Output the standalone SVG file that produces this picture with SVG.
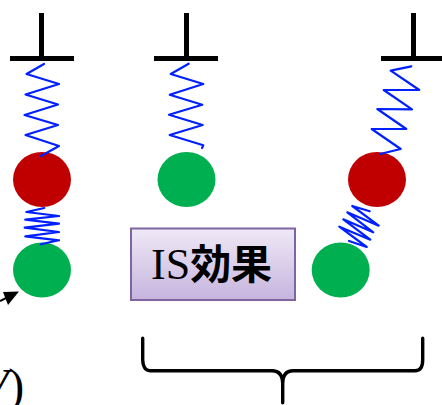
<svg xmlns="http://www.w3.org/2000/svg" width="442" height="405" viewBox="0 0 442 405">
  <defs>
    <linearGradient id="boxFill" x1="0" y1="0" x2="0" y2="1">
      <stop offset="0" stop-color="#efe9f6"/>
      <stop offset="1" stop-color="#c6b4de"/>
    </linearGradient>
  </defs>
  <style>
    .bar { fill: #000; }
    .spring { fill: none; stroke: #0020ff; stroke-width: 2.2; stroke-linejoin: round; stroke-linecap: round; }
    .red { fill: #c00000; }
    .green { fill: #00b050; }
    .latin { font-family: "Liberation Serif", serif; fill: #000; }
    .cjk { font-family: "Noto Sans CJK JP", "Noto Sans CJK SC", sans-serif; font-weight: 700; fill: #000; }
  </style>
  <rect width="442" height="405" fill="#fff"/>

  <g id="support-left"><rect class="bar" x="39" y="13" width="5" height="44"/><rect class="bar" x="10" y="56" width="64" height="5"/></g>
  <g id="support-center"><rect class="bar" x="184" y="13" width="5" height="44"/><rect class="bar" x="154" y="56" width="64" height="5"/></g>
  <g id="support-right"><rect class="bar" x="411" y="13" width="5" height="44"/><rect class="bar" x="381" y="56" width="61" height="5"/></g>

  <g id="ball-red-left"><ellipse class="red" cx="42" cy="179.5" rx="29" ry="27.5"/></g>
  <g id="ball-green-left"><ellipse class="green" cx="42" cy="270" rx="29" ry="27.5"/></g>
  <g id="ball-green-center"><ellipse class="green" cx="186.5" cy="179.5" rx="29" ry="27.5"/></g>
  <g id="ball-red-right"><ellipse class="red" cx="377" cy="179.5" rx="29" ry="27.5"/></g>
  <g id="ball-green-right"><ellipse class="green" cx="340.7" cy="270" rx="29" ry="27.5"/></g>

  <g id="connectors">
    <polyline class="spring" points="44,64 26.5,74 59,84 25.5,94.5 58,104.5 24.5,115 58,125 25.5,135 59,146 41,156"/>
    <polyline class="spring" points="44.3,208 26.3,212 59,216 25.3,219.7 59,223.7 24.7,227.7 59,232 25.3,236.3 59,240.3 40.7,244.3"/>
    <polyline class="spring" points="188.7,63.7 170.7,74 203.3,84 169.7,94.7 202.3,104.7 169,114.7 202.7,125 169.7,135 203.3,145.3 202,148"/>
    <polyline class="spring" points="411.3,66.3 390.7,70.7 419.3,90 383.7,90 412,109.3 377.3,109 406.3,129 371.7,129 400.7,149 380,154"/>
    <polyline class="spring" points="369.7,211.3 352.3,206 378.7,225.7 347.3,212.3 373.3,232.3 343.3,219.3 370.3,239.7 339.3,226.7 366.7,247 349,241"/>
    <path d="M0,301 L10,296" fill="none" stroke="#000" stroke-width="2"/>
    <polygon points="19,291.5 3,292 8,305" fill="#000"/>
    <path d="M142.7,338.3 V360 Q143.3,370.7 150,370.7 H272 Q282.7,370.7 282.7,384 V402.7 M282.7,384 Q282.7,370.7 293,370.7 H415 Q422.7,370.7 422.7,360 V338.3" fill="none" stroke="#000" stroke-width="3.4" stroke-linecap="round"/>
  </g>

  <g id="is-box">
    <rect x="131" y="228.5" width="164" height="71.5" fill="url(#boxFill)" stroke="#8064a2" stroke-width="2"/>
    <text x="151" y="279" class="latin" font-size="44">IS<tspan class="cjk" font-size="41">効果</tspan></text>
  </g>

  <text id="cut-label" x="-21" y="402" class="latin" font-size="48"><tspan font-style="italic">V</tspan>)</text>
</svg>
